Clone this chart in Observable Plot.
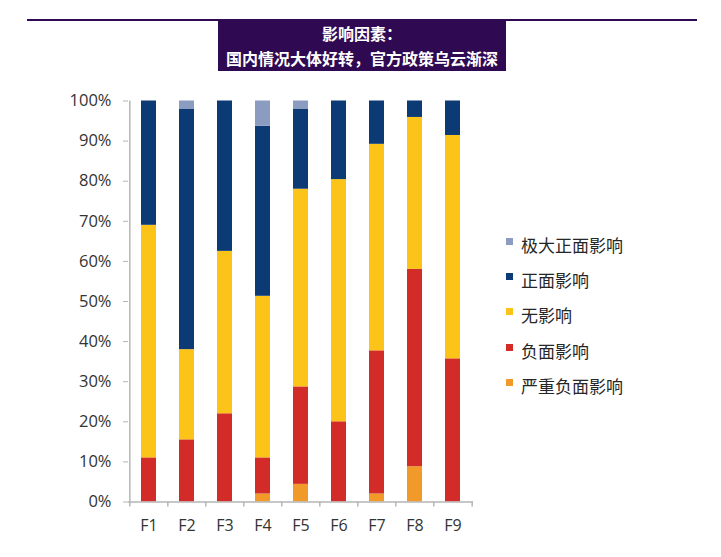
<!DOCTYPE html>
<html>
<head>
<meta charset="utf-8">
<script src="https://cdn.jsdelivr.net/npm/d3@7"></script>
<script src="https://cdn.jsdelivr.net/npm/@observablehq/plot@0.6"></script>
<style>
  body { margin: 0; background: #fff; }
  #wrap { position: relative; width: 721px; height: 557px; overflow: hidden; font-family: "Open Sans", "Noto Sans CJK SC", sans-serif; }
  #head { position: relative; height: 80px; }
  #rule { position: absolute; left: 27px; top: 19px; width: 670px; height: 2px; background: #2f0a52; }
  #box { position: absolute; left: 218px; top: 19px; width: 288px; height: 52px; background: #2f0a52; color: #fff;
         font-family: "Noto Sans CJK SC", sans-serif; font-weight: bold; font-size: 16px; text-align: center; line-height: 25px; padding-top: 2px; box-sizing: border-box; }
  #legend { position: absolute; left: 506px; top: 227px; font-family: "Noto Sans CJK SC", sans-serif; font-size: 17px; color: #262626; }
  .row { height: 35.2px; display: flex; align-items: center; }
  .sw { width: 7px; height: 7px; margin-right: 8px; position: relative; top: -3px; }
</style>
</head>
<body>
<div id="wrap">
  <div id="head">
    <div id="rule"></div>
    <div id="box"><div>影响因素：</div><div>国内情况大体好转，官方政策乌云渐深</div></div>
  </div>
  <div id="chart"></div>
  <div id="legend"></div>
</div>
<script>
// ---- data ----
const categories = ["F1", "F2", "F3", "F4", "F5", "F6", "F7", "F8", "F9"];
const seriesNames = ["严重负面影响", "负面影响", "无影响", "正面影响", "极大正面影响"]; // bottom -> top
const seriesColors = ["#f19a2a", "#d32b27", "#fcc419", "#0c3a75", "#8c9cc0"];
const veryNegative = [0, 0, 0, 2, 4.4, 0, 2, 8.8, 0];
const negative     = [11, 15.5, 22, 9, 24.3, 20, 35.7, 49.2, 35.7];
const neutral      = [58, 22.5, 40.5, 40.3, 49.3, 60.4, 51.5, 37.9, 55.7];
const positive     = [31, 60, 37.5, 42.4, 20, 19.6, 10.8, 4.1, 8.6];
const veryPositive = [0, 2, 0, 6.3, 2, 0, 0, 0, 0];
const legendOrder = ["极大正面影响", "正面影响", "无影响", "负面影响", "严重负面影响"];
const yTicks = [0, 10, 20, 30, 40, 50, 60, 70, 80, 90, 100];

const seriesValues = [veryNegative, negative, neutral, positive, veryPositive];
const data = [];
seriesNames.forEach((s, si) => {
  categories.forEach((c, ci) => data.push({cat: c, series: s, value: seriesValues[si][ci]}));
});

const W = 721, H = 477, mL = 128, mR = 248;
const step = (W - mL - mR) / categories.length;
const axisColor = "#b5b5b5";

const chart = Plot.plot({
  width: W,
  height: H,
  marginTop: 20.5,
  marginBottom: 55.5,
  marginLeft: mL,
  marginRight: mR,
  style: {fontFamily: "'Open Sans', sans-serif", fontSize: "16px", color: "#333", background: "transparent"},
  x: {type: "band", domain: categories, paddingInner: 0.6, paddingOuter: 0.3, axis: null},
  y: {domain: [0, 100], axis: null},
  color: {domain: seriesNames, range: seriesColors},
  marks: [
    Plot.barY(data, {x: "cat", y: "value", fill: "series", order: null}),
    Plot.ruleY([0], {stroke: axisColor, strokeWidth: 1.5}),
    Plot.ruleX([categories[0]], {dx: -step / 2, stroke: axisColor, strokeWidth: 1.5}),
    Plot.ruleX(categories, {x: d => d, y1: 0, y2: 0, insetBottom: -5, dx: -step / 2, stroke: axisColor, strokeWidth: 1.5}),
    Plot.ruleX([categories[categories.length - 1]], {x: d => d, y1: 0, y2: 0, insetBottom: -5, dx: step / 2, stroke: axisColor, strokeWidth: 1.5}),
    Plot.axisY({ticks: yTicks, tickSize: 5, tickPadding: 12, tickFormat: d => d + "%", stroke: axisColor, fill: "#333", fontSize: 16.5, label: null}),
    Plot.axisX({tickSize: 0, tickPadding: 18, fill: "#333", fontSize: 16, label: null})
  ]
});
document.getElementById("chart").appendChild(chart);

const legend = d3.select("#legend");
legendOrder.forEach(name => {
  const row = legend.append("div").attr("class", "row");
  row.append("div").attr("class", "sw").style("background", seriesColors[seriesNames.indexOf(name)]);
  row.append("span").text(name);
});
</script>
</body>
</html>
